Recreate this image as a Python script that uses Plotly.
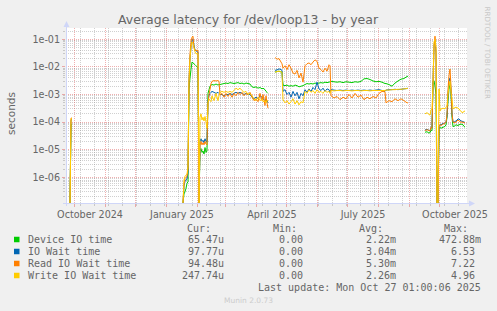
import plotly.graph_objects as go

# ---------------- data ----------------
dates = [
    '2024-09-27', '2024-09-28', '2024-09-29', '2024-09-30',
    '2025-01-18', '2025-01-19', '2025-01-20', '2025-01-21', '2025-01-22', '2025-01-23', '2025-01-24', '2025-01-25',
    '2025-01-26', '2025-01-27', '2025-01-28', '2025-01-29', '2025-01-30', '2025-01-31', '2025-02-01', '2025-02-02', '2025-02-03',
    '2025-02-04', '2025-02-05', '2025-02-06', '2025-02-07', '2025-02-08', '2025-02-09', '2025-02-10', '2025-02-11',
    '2025-02-12', '2025-02-13', '2025-02-14', '2025-02-15', '2025-02-16', '2025-02-18', '2025-02-20', '2025-02-22', '2025-02-23',
    '2025-02-24', '2025-02-26', '2025-02-28', '2025-03-02', '2025-03-04', '2025-03-06', '2025-03-08', '2025-03-10', '2025-03-12',
    '2025-03-14', '2025-03-16', '2025-03-18', '2025-03-20', '2025-03-22', '2025-03-24', '2025-03-26', '2025-03-28', '2025-03-30',
    '2025-04-01', '2025-04-03', '2025-04-05', '2025-04-07', '2025-04-08', '2025-04-10', '2025-04-11', '2025-04-12', '2025-04-13', '2025-04-14',
    '2025-04-20', '2025-04-22', '2025-04-24', '2025-04-26', '2025-04-27',
    '2025-04-28', '2025-04-30', '2025-05-02', '2025-05-04', '2025-05-06', '2025-05-08', '2025-05-10', '2025-05-12', '2025-05-14', '2025-05-16', '2025-05-18',
    '2025-05-20', '2025-05-22', '2025-05-24', '2025-05-26', '2025-05-28', '2025-05-30', '2025-06-01',
    '2025-06-03', '2025-06-05', '2025-06-07', '2025-06-09', '2025-06-11', '2025-06-13', '2025-06-14',
    '2025-06-15', '2025-06-18', '2025-06-21', '2025-06-24', '2025-06-27', '2025-06-30', '2025-07-03', '2025-07-06',
    '2025-07-09', '2025-07-12', '2025-07-15', '2025-07-18', '2025-07-21', '2025-07-24', '2025-07-27', '2025-07-30',
    '2025-08-02', '2025-08-05', '2025-08-08', '2025-08-09', '2025-08-12', '2025-08-15', '2025-08-18', '2025-08-21',
    '2025-08-24', '2025-08-27', '2025-08-30', '2025-08-31', '2025-09-01',
    '2025-09-17', '2025-09-19', '2025-09-21', '2025-09-22', '2025-09-23', '2025-09-24', '2025-09-25', '2025-09-26',
    '2025-09-27', '2025-09-28', '2025-09-29', '2025-09-30',
    '2025-10-01', '2025-10-02', '2025-10-03', '2025-10-05', '2025-10-07', '2025-10-08', '2025-10-09', '2025-10-10',
    '2025-10-11', '2025-10-12', '2025-10-13', '2025-10-14', '2025-10-15', '2025-10-16', '2025-10-18', '2025-10-20',
    '2025-10-21', '2025-10-23', '2025-10-25', '2025-10-26', '2025-10-27',
]

device_io = [
    0, 8e-5, 8e-5, None,
    0, 2.5e-7, 3e-7, 4e-7, 6e-7, 7e-7, 1.5e-3, 4e-3,
    8e-3, 1.5e-2, 1.4e-2, 1.3e-2, 1.2e-2, 1.1e-2, 1e-2, 9e-3, 0,
    1e-5, 1.1e-5, 8e-6, 9e-6, 7e-6, 1.2e-5, 8e-6, 9e-6,
    1.1e-3, 1.5e-3, 2e-3, 2.2e-3, 2.3e-3, 2.2e-3, 2.4e-3, 2.2e-3, 2.3e-3,
    2.3e-3, 2.4e-3, 2.5e-3, 2.6e-3, 2.5e-3, 2.7e-3, 2.6e-3, 2.5e-3, 2.6e-3,
    2.7e-3, 2.5e-3, 2.6e-3, 2.4e-3, 2.6e-3, 2.5e-3, 2.4e-3, 1.9e-3, 1.8e-3,
    1.9e-3, 1.7e-3, 1.8e-3, 1.6e-3, 1.7e-3, 1.5e-3, 1.3e-3, 1.2e-3, 1.1e-3, None,
    6.5e-3, 6.8e-3, 7e-3, 6.6e-3, 6.5e-3,
    2.2e-3, 2.1e-3, 2.2e-3, 2e-3, 2.1e-3, 2e-3, 2.2e-3, 2.1e-3, 1.9e-3, 2e-3, 2.1e-3,
    2.3e-3, 2.5e-3, 2.4e-3, 2.5e-3, 2.4e-3, 2.6e-3, 2.5e-3,
    2.6e-3, 2.7e-3, 2.6e-3, 2.8e-3, 2.7e-3, 2.8e-3, 2.9e-3,
    3e-3, 2.9e-3, 2.8e-3, 2.9e-3, 2.7e-3, 2.9e-3, 2.8e-3, 2.7e-3,
    2.9e-3, 2.8e-3, 3e-3, 3.7e-3, 3.8e-3, 3.5e-3, 3.1e-3, 2.9e-3,
    3e-3, 2.8e-3, 2.5e-3, 2.5e-3, 2.3e-3, 2e-3, 2.6e-3, 3.1e-3,
    3.6e-3, 3.8e-3, 4.5e-3, 4.6e-3, None,
    4.3e-5, 4.5e-5, 4e-5, 4.2e-5, 5e-5, 5e-5, 3e-3, 3.2e-3,
    2e-3, 1e-3, 0, 0,
    6e-5, 6.5e-5, 6e-5, 6.5e-5, 7e-5, 8e-5, 1.5e-4, 6e-4,
    1.5e-3, 2.5e-3, 1e-3, 1.5e-4, 7e-5, 7e-5, 8e-5, 7.5e-5,
    8e-5, 8.5e-5, 8e-5, 7e-5, 6.547e-5,
]

io_wait = [
    0, 1.2e-4, 1.25e-4, None,
    0, 5e-7, 7e-7, 8e-7, 9e-7, 1.5e-6, 3e-3, 2e-2,
    5e-2, 9e-2, 1e-1, 6e-2, 4e-2, 4e-2, 3.5e-2, 3.5e-2, 0,
    2e-5, 2.5e-5, 2e-5, 2.2e-5, 1.8e-5, 2.5e-5, 2e-5, 2e-5,
    6e-4, 9e-4, 1.1e-3, 1.2e-3, 1.3e-3, 1.2e-3, 1.1e-3, 1.2e-3, 1.1e-3,
    1e-3, 1e-3, 9e-4, 1e-3, 1e-3, 1.1e-3, 1e-3, 1.1e-3, 1.2e-3,
    1.1e-3, 1.2e-3, 1.1e-3, 1e-3, 1.1e-3, 1e-3, 1e-3, 8e-4, 7e-4,
    8e-4, 7e-4, 9e-4, 8e-4, 7e-4, 6e-4, 7e-4, 6e-4, 5e-4, None,
    7.5e-3, 7.8e-3, 8.5e-3, 8e-3, 7.5e-3,
    1.3e-3, 1.5e-3, 1e-3, 1.2e-3, 8e-4, 1.3e-3, 9e-4, 1.2e-3, 7e-4, 1.1e-3, 9e-4,
    1.5e-3, 1.2e-3, 1.6e-3, 1.3e-3, 1.8e-3, 1.5e-3, 2.8e-3,
    1.6e-3, 1.4e-3, 1.7e-3, 1.3e-3, 1.6e-3, 1.5e-3, 1.2e-3,
    1.5e-3, 1.45e-3, 1.4e-3, 1.45e-3, 1.4e-3, 1.45e-3, 1.4e-3, 1.45e-3,
    1.4e-3, 1.45e-3, 1.4e-3, 1.45e-3, 1.4e-3, 1.45e-3, 1.4e-3, 1.45e-3,
    1.5e-3, 1.4e-3, 1.3e-3, 1.45e-3, 1.5e-3, 1.5e-3, 1.55e-3, 1.5e-3,
    1.55e-3, 1.6e-3, 1.65e-3, 1.7e-3, None,
    5.2e-5, 5.5e-5, 5e-5, 4.8e-5, 6.5e-5, 6.2e-5, 2.5e-3, 6e-2,
    9e-2, 3e-2, 0, 0,
    7e-5, 8e-5, 8e-5, 9e-5, 9e-5, 1e-4, 1.6e-4, 1e-3,
    3e-3, 4e-3, 1.5e-3, 2e-4, 1e-4, 1e-4, 1.1e-4, 1.3e-4,
    1.3e-4, 1.1e-4, 1.05e-4, 1e-4, 9.777e-5,
]

read_wait = [
    0, 1.4e-4, 1.4e-4, None,
    0, 6e-7, 9e-7, 1e-6, 1.1e-6, 2e-6, 3e-3, 3e-2,
    8e-2, 1.2e-1, 1.3e-1, 5e-2, 4e-2, 4e-2, 4e-2, 4e-2, 0,
    1.5e-5, 2e-5, 1.5e-5, 1.8e-5, 1.5e-5, 2e-5, 1.6e-5, 1.5e-5,
    5e-4, 1e-3, 1.5e-3, 2.5e-3, 3e-3, 3.2e-3, 3.1e-3, 3.2e-3, 3e-3,
    9.5e-4, 1.1e-3, 8e-4, 1.1e-3, 8.5e-4, 1.1e-3, 8e-4, 1.1e-3, 9e-4,
    1.2e-3, 1e-3, 1.2e-3, 9e-4, 1.1e-3, 1e-3, 1.2e-3, 8e-4, 6e-4,
    7e-4, 5.5e-4, 1.1e-3, 6e-4, 1e-3, 4e-4, 9e-4, 5e-4, 3.2e-4, None,
    2.2e-2, 1.9e-2, 2e-2, 1.5e-2, 1.3e-2,
    9e-3, 1.1e-2, 8e-3, 1.2e-2, 9e-3, 6e-3, 5.5e-3, 7.5e-3, 4e-3, 6e-3, 2.8e-3,
    1.1e-2, 1.3e-2, 1.4e-2, 1.2e-2, 1.5e-2, 1.8e-2, 1.6e-2,
    9e-3, 8e-3, 6.5e-3, 9e-3, 7e-3, 1.2e-2, 1.1e-2,
    9e-4, 7.5e-4, 8.5e-4, 6.5e-4, 8e-4, 7e-4, 1e-3, 7.5e-4,
    1.1e-3, 8e-4, 9.5e-4, 6.5e-4, 8e-4, 7e-4, 8.5e-4, 7.5e-4,
    1.1e-3, 1.3e-3, 1.25e-3, 5e-4, 6e-4, 5.5e-4, 7e-4, 6e-4,
    7e-4, 6e-4, 5e-4, 5e-4, None,
    5e-5, 5.3e-5, 5e-5, 4.8e-5, 6.5e-5, 6e-5, 2.5e-3, 5e-2,
    1.3e-1, 4e-2, 0, 0,
    7e-5, 8e-5, 7.5e-5, 8.5e-5, 9e-5, 1e-4, 1.8e-4, 1.5e-3,
    5e-3, 8.4e-3, 2e-3, 2e-4, 1e-4, 9.5e-5, 1e-4, 1.2e-4,
    1.1e-4, 1e-4, 1e-4, 9.5e-5, 9.448e-5,
]

write_wait = [
    0, 1.3e-4, 1.35e-4, None,
    0, 8e-7, 1.1e-6, 1.2e-6, 1.3e-6, 2.5e-6, 3e-3, 2e-2,
    5e-2, 8e-2, 7e-2, 5e-2, 3.5e-2, 3e-2, 3e-2, 3e-2, 0,
    1.5e-4, 2e-4, 1.2e-4, 1.5e-4, 1.1e-4, 1.6e-4, 1e-4, 6e-5,
    5e-4, 7e-4, 6e-4, 5.5e-4, 9e-4, 6e-4, 1.1e-3, 6e-4, 9e-4,
    1.2e-3, 1.3e-3, 1.2e-3, 1.3e-3, 1.2e-3, 1.3e-3, 1.2e-3, 1.4e-3, 1.7e-3,
    1.5e-3, 1.7e-3, 1.4e-3, 1.2e-3, 1.3e-3, 1e-3, 1.1e-3, 9e-4, 7e-4,
    6e-4, 8e-4, 6e-4, 7e-4, 5.5e-4, 6e-4, 5e-4, 6e-4, 6e-4, None,
    6.5e-3, 6.8e-3, 7e-3, 6.6e-3, 6.5e-3,
    6.5e-4, 5e-4, 6e-4, 4.5e-4, 5.5e-4, 7e-4, 4.5e-4, 6e-4, 4.2e-4, 5.5e-4, 5e-4,
    1.3e-3, 1.1e-3, 1.5e-3, 1.2e-3, 1.4e-3, 1.1e-3, 1.5e-3,
    1.2e-3, 1.3e-3, 1.1e-3, 1.4e-3, 1.2e-3, 1.3e-3, 1.1e-3,
    1.4e-3, 1.35e-3, 1.4e-3, 1.4e-3, 1.35e-3, 1.4e-3, 1.4e-3, 1.35e-3,
    1.4e-3, 1.4e-3, 1.35e-3, 1.4e-3, 1.4e-3, 1.35e-3, 1.4e-3, 1.4e-3,
    1.4e-3, 1.4e-3, 1.4e-3, 1.45e-3, 1.45e-3, 1.5e-3, 1.5e-3, 1.55e-3,
    1.55e-3, 1.6e-3, 1.65e-3, 1.7e-3, None,
    2e-4, 2.2e-4, 1.9e-4, 1.8e-4, 2.8e-4, 3e-4, 2.5e-3, 8e-2,
    1e-1, 5e-2, 0, 0,
    1.6e-3, 2.5e-4, 3e-4, 3.2e-4, 3e-4, 3.5e-4, 3.8e-4, 1e-3,
    2e-3, 3e-3, 1.2e-3, 7e-4, 3e-4, 3.2e-4, 3.5e-4, 3.2e-4,
    3e-4, 2.4e-4, 2.2e-4, 2.5e-4, 2.4774e-4,
]

series_names = ['Device IO time', 'IO Wait time', 'Read IO Wait time', 'Write IO Wait time']
series_colors = ['#00CC00', '#0066B3', '#FF8000', '#FFCC00']
cur_vals = ['65.47u', '97.77u', '94.48u', '247.74u']
min_vals = ['0.00', '0.00', '0.00', '0.00']
avg_vals = ['2.22m', '3.04m', '5.30m', '2.26m']
max_vals = ['472.88m', '6.53', '7.22', '4.96']

y_tick_vals = [1e-6, 1e-5, 1e-4, 1e-3, 1e-2, 1e-1]
y_tick_text = ['1e-06', '1e-05', '1e-04', '1e-03', '1e-02', '1e-01']
month_starts = ['2024-10-01', '2024-11-01', '2024-12-01', '2025-01-01', '2025-02-01', '2025-03-01',
                '2025-04-01', '2025-05-01', '2025-06-01', '2025-07-01', '2025-08-01', '2025-09-01', '2025-10-01']
biweekly = ['2024-09-23', '2024-10-07', '2024-10-21', '2024-11-04', '2024-11-18', '2024-12-02', '2024-12-16',
            '2024-12-30', '2025-01-13', '2025-01-27', '2025-02-10', '2025-02-24', '2025-03-10', '2025-03-24',
            '2025-04-07', '2025-04-21', '2025-05-05', '2025-05-19', '2025-06-02', '2025-06-16', '2025-06-30',
            '2025-07-14', '2025-07-28', '2025-08-11', '2025-08-25', '2025-09-08', '2025-09-22', '2025-10-06',
            '2025-10-20']
x_label_pos = ['2024-10-17', '2025-01-17', '2025-04-17', '2025-07-17', '2025-10-17']
x_label_text = ['October 2024', 'January 2025', 'April 2025', 'July 2025', 'October 2025']

# ---------------- layout geometry ----------------
W, H = 497, 311
L, R, T, B = 66, 30, 28, 108
PW, PH = W - L - R, H - T - B
Y_LO, Y_HI = -6.93, -0.59
# rrdtool draws a zero on a log axis at the bottom edge of the canvas
FLOOR = 10 ** (Y_LO + 0.002)


def px(x):
    return (x - L) / PW


def py(y):
    return (H - B - y) / PH


FONT = 'DejaVu Sans'
MONO = 'DejaVu Sans Mono'
FC = '#666666'
GRID = 'rgba(143,143,143,0.42)'
MGRID = 'rgba(222,79,79,0.45)'
AXIS = '#CFD6F8'

fig = go.Figure()
for name, col, vals in zip(series_names, series_colors, [device_io, io_wait, read_wait, write_wait]):
    yv = [None if v is None else (FLOOR if v <= 0 else v) for v in vals]
    fig.add_trace(go.Scatter(x=dates, y=yv, mode='lines', name=name,
                             line=dict(color=col, width=1, simplify=False),
                             connectgaps=False, showlegend=False, hoverinfo='skip', cliponaxis=True))

# dummy trace so the label axis is drawn
fig.add_trace(go.Scatter(x=[dates[0]], y=[None], xaxis='x2', showlegend=False, hoverinfo='skip'))

minor_y = [k * 10.0 ** d for d in range(-7, 0) for k in range(2, 10)]

fig.update_layout(
    width=W, height=H,
    margin=dict(l=L, r=R, t=T, b=B, pad=0, autoexpand=False),
    paper_bgcolor='#F0F0F0', plot_bgcolor='#FFFFFF',
    xaxis=dict(type='date', range=['2024-09-23', '2025-10-29'],
               tickmode='array', tickvals=month_starts, ticktext=[''] * len(month_starts),
               showgrid=True, gridcolor=MGRID, griddash='1px,1px', gridwidth=1,
               ticks='outside', ticklen=3, tickcolor=MGRID, tickwidth=1,
               minor=dict(tickmode='array', tickvals=biweekly, showgrid=True, gridcolor=GRID,
                          griddash='1px,1px', gridwidth=1, ticks='outside', ticklen=2, tickcolor=GRID),
               showline=False, zeroline=False, fixedrange=True),
    xaxis2=dict(type='date', overlaying='x', matches='x', side='bottom', anchor='y',
                tickmode='array', tickvals=x_label_pos, ticktext=x_label_text,
                showgrid=False, ticks='outside', ticklen=2, tickcolor='rgba(0,0,0,0)',
                tickfont=dict(family=FONT, size=9.6, color=FC), showline=False, zeroline=False),
    yaxis=dict(type='log', range=[Y_LO, Y_HI],
               tickmode='array', tickvals=y_tick_vals, ticktext=y_tick_text,
               showgrid=True, gridcolor=MGRID, griddash='1px,1px', gridwidth=1,
               ticks='outside', ticklen=3, tickcolor=MGRID, tickwidth=1,
               minor=dict(tickmode='array', tickvals=minor_y, showgrid=True, gridcolor=GRID,
                          griddash='1px,1px', gridwidth=1, ticks='outside', ticklen=2, tickcolor=GRID),
               tickfont=dict(family=FONT, size=9.6, color=FC),
               showline=False, zeroline=False, fixedrange=True),
    showlegend=False,
)

shapes = []
# axis lines + arrows
shapes.append(dict(type='line', xref='paper', yref='paper', x0=px(66.5), x1=px(66.5), y0=py(206), y1=py(25),
                   line=dict(color=AXIS, width=1)))
shapes.append(dict(type='line', xref='paper', yref='paper', x0=px(63), x1=px(470), y0=py(203.5), y1=py(203.5),
                   line=dict(color=AXIS, width=1)))
shapes.append(dict(type='path', xref='paper', yref='paper',
                   path=f'M {px(63.5)} {py(27)} L {px(69.5)} {py(27)} L {px(66.5)} {py(21)} Z',
                   fillcolor=AXIS, line=dict(color=AXIS, width=0)))
shapes.append(dict(type='path', xref='paper', yref='paper',
                   path=f'M {px(469)} {py(200.5)} L {px(469)} {py(206.5)} L {px(475)} {py(203.5)} Z',
                   fillcolor=AXIS, line=dict(color=AXIS, width=0)))
# legend squares
for i, col in enumerate(series_colors):
    yc = 239.5 + 12 * i
    shapes.append(dict(type='rect', xref='paper', yref='paper', x0=px(14), x1=px(19.5),
                       y0=py(yc + 2.75), y1=py(yc - 2.75), fillcolor=col, line=dict(width=0)))
fig.update_layout(shapes=shapes)

ann = []


def text(x, y, s, size, family=FONT, color=FC, xanchor='center', angle=0):
    ann.append(dict(xref='paper', yref='paper', x=px(x), y=py(y), text=s, showarrow=False,
                    xanchor=xanchor, yanchor='middle', textangle=angle,
                    font=dict(family=family, size=size, color=color)))


text(248.5, 19.5, 'Average latency for /dev/loop13 - by year', 12.5)
text(11, 114, 'seconds', 10.5, angle=-90)
text(487.5, 53, 'RRDTOOL / TOBI OETIKER', 7.2, color='#C8C8C8', angle=90)

CW = 6.02
hdr_y = 228.3
for lab, right in zip(['Cur:', 'Min:', 'Avg:', 'Max:'], [213, 298.5, 384.5, 470]):
    text(right, hdr_y, lab, 10, family=MONO, xanchor='right')
for i, name in enumerate(series_names):
    yr = 239.5 + 12 * i
    text(26, yr, name, 10, family=MONO, xanchor='left')
    for val, right in zip([cur_vals[i], min_vals[i], avg_vals[i], max_vals[i]], [226.3, 311.5, 398.3, 482.7]):
        r = right if val[-1].isalpha() else right - CW
        text(r, yr, val, 10, family=MONO, xanchor='right')
text(482.7, 287.5, 'Last update: Mon Oct 27 01:00:06 2025', 10, family=MONO, xanchor='right')
text(248.5, 300, 'Munin 2.0.73', 7.5, color='#CCCCCC')

fig.update_layout(annotations=ann)
fig.write_html('out.html')
